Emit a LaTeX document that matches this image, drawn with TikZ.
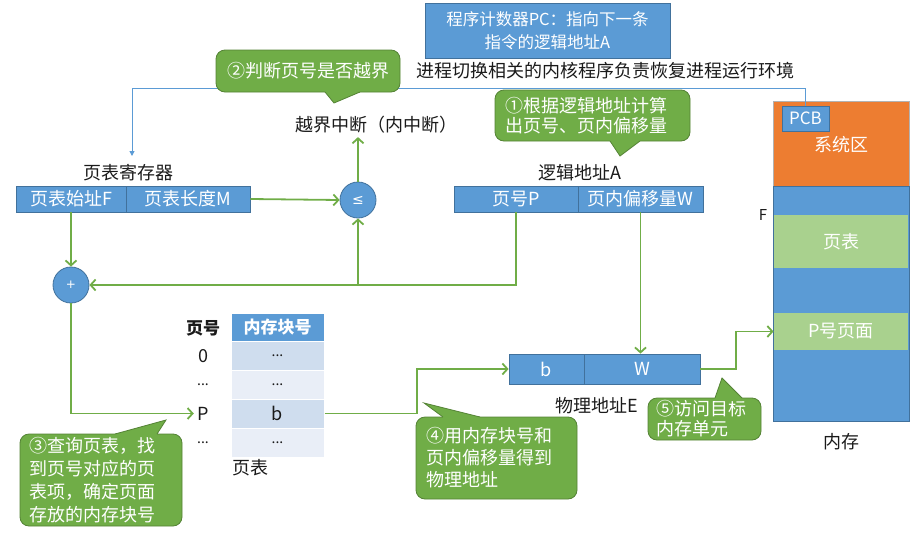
\documentclass[tikz,border=0pt]{standalone}
\usepackage{fontspec}
\setmainfont{Noto Sans CJK SC}
\newfontfamily\symfont{DejaVu Sans}
\usetikzlibrary{arrows.meta}
\definecolor{cblue}{HTML}{5B9BD5}
\definecolor{cblueb}{HTML}{41719C}
\definecolor{cgreen}{HTML}{70AD47}
\definecolor{cgreenb}{HTML}{548235}
\definecolor{corange}{HTML}{ED7D31}
\definecolor{clgreen}{HTML}{A9D18E}
\definecolor{crowa}{HTML}{CFDDEE}
\definecolor{crowb}{HTML}{E9EEF7}
\definecolor{ctext}{HTML}{1A1A1A}
\begin{document}
\begin{tikzpicture}[x=1pt,y=-1pt,
  every node/.style={font=\fontsize{18}{21}\selectfont, text=ctext},
  bluebox/.style={fill=cblue, draw=cblueb, line width=0.8, text=white, minimum height=26, inner sep=0},
  callout/.style={fill=cgreen, draw=cgreenb, line width=0.8, rounded corners=9, text=white, align=left, inner sep=0},
  ptrfill/.style={fill=cgreen},
  ptredge/.style={draw=cgreenb, line width=0.8},
  garrow/.style={draw=cgreen, line width=1.8, -{Straight Barb[length=5,width=11]}},
  gline/.style={draw=cgreen, line width=1.8},
  circ/.style={circle, fill=cblue, draw=cblueb, line width=0.8, minimum size=36, inner sep=0, text=white},
  cell/.style={minimum width=93, minimum height=29, inner sep=0, draw=white, line width=1},
  smalltxt/.style={font=\fontsize{14}{16}\selectfont}]
\useasboundingbox (0,0) rectangle (924,544);

% program counter
\node[bluebox, minimum width=245, minimum height=55, align=center, font=\fontsize{16.5}{23}\selectfont] (pc) at (547.5,30.5) {程序计数器PC：指向下一条\\指令的逻辑地址A};
\node (ctx) at (605,71) {进程切换相关的内核程序负责恢复进程运行环境};

% memory
\node[draw=gray!60, fill=corange, minimum width=136, minimum height=85, inner sep=0] (sys) at (841,143.5) {};
\node[text=white] (systxt) at (841,145) {系统区};
\node[fill=cblue, draw=cblueb, line width=0.8, minimum width=136, minimum height=235, inner sep=0] (mem) at (841,303.5) {};
\node[fill=clgreen, minimum width=134.5, minimum height=53, inner sep=0, text=white] (mempt) at (841,241.5) {页表};
\node[fill=clgreen, minimum width=134.5, minimum height=37, inner sep=0, text=white] (mempp) at (841,331.5) {P号页面};
\node[bluebox, minimum width=47, minimum height=25, font=\fontsize{17}{20}\selectfont] (pcb) at (805.5,118.5) {PCB};
\node[font=\fontsize{15}{17}\selectfont] (flbl) at (763,215) {F};
\node (memlbl) at (841,442) {内存};

% blue context line
\coordinate (b1) at (805.5,88);
\coordinate (b2) at (132,88);
\coordinate (b3) at (132,156);
\draw[cblue, line width=1, -{Triangle[length=5,width=5]}] (pcb.north) -- (b1) -- (b2) -- (b3);

% callout 2
\node[callout, minimum width=184, minimum height=42, align=center] (c2) at (308,71) {②判断页号是否越界};
\fill[ptrfill] (325,89) -- (325,92) -- (334,103) -- (360,92) -- (360,89) -- cycle;
\draw[ptredge] (325,92) -- (334,103) -- (360,92);

\node (intr) at (376,125) {越界中断（内中断）};

% page table register
\node (reglbl) at (128,173) {页表寄存器};
\node[bluebox, minimum width=110] (ptF) at (71,199) {页表始址F};
\node[bluebox, minimum width=124] (ptM) at (188,199) {页表长度M};

\node[circ, font=\symfont\fontsize{14}{16}\selectfont] (le) at (358,200) {≤};
\node[circ, font=\symfont\fontsize{12}{14}\selectfont] (plus) at (71,285) {+};

% logical address
\node (loglbl) at (580,173) {逻辑地址A};
\node[bluebox, minimum width=124] (lP) at (516,199) {页号P};
\node[bluebox, minimum width=125] (lW) at (640.5,199) {页内偏移量W};

% callout 1
\node[callout, minimum width=195, minimum height=51, text width=174, font=\fontsize{18}{20}\selectfont] (c1) at (592.5,115.5) {①根据逻辑地址计算\\出页号、页内偏移量};
\fill[ptrfill] (610,138) -- (610,141) -- (620,156) -- (640,141) -- (640,138) -- cycle;
\draw[ptredge] (610,141) -- (620,156) -- (640,141);

% page table
\node[font=\fontsize{17}{21}\selectfont\bfseries] (thl) at (203,328) {页号};
\node[cell, fill=cblue, text=white, font=\fontsize{17}{21}\selectfont\bfseries] (th) at (277.5,327.5) {内存块号};
\node[cell, fill=crowa, smalltxt] (r0) at (277.5,356) {...};
\node[cell, fill=crowb, smalltxt] (r1) at (277.5,384.5) {...};
\node[cell, fill=crowa] (r2) at (277.5,413.5) {b};
\node[cell, fill=crowb, smalltxt] (r3) at (277.5,442.5) {...};
\node (l0) at (203,356) {0};
\node[smalltxt] (l1) at (203,384.5) {...};
\node (lp) at (203,413.5) {P};
\node[smalltxt] (l3) at (203,442.5) {...};
\node (ptlbl) at (250,468) {页表};

% physical address
\node[bluebox, minimum width=75, minimum height=30] (pb) at (546.5,369) {b};
\node[bluebox, minimum width=116, minimum height=30] (pW) at (642,369) {W};
\node (physlbl) at (597,406) {物理地址E};

% callout 3
\node[callout, minimum width=162, minimum height=92, text width=144, font=\fontsize{18}{23}\selectfont] (c3) at (101,480) {③查询页表，找\\到页号对应的页\\表项，确定页面\\存放的内存块号};
\fill[ptrfill] (115,437) -- (115,434) -- (166,420) -- (157,434) -- (157,437) -- cycle;
\draw[ptredge] (115,434) -- (166,420) -- (157,434);

% callout 4
\node[callout, minimum width=161, minimum height=82, text width=140, font=\fontsize{18}{22}\selectfont] (c4) at (496.5,458) {④用内存块号和\\页内偏移量得到\\物理地址};
\fill[ptrfill] (443,420) -- (443,417) -- (424,403) -- (480,417) -- (480,420) -- cycle;
\draw[ptredge] (443,417) -- (424,403) -- (480,417);

% callout 5
\node[callout, minimum width=113, minimum height=42, text width=96, font=\fontsize{18}{20}\selectfont] (c5) at (704.5,419) {⑤访问目标\\内存单元};
\fill[ptrfill] (715,401) -- (715,398) -- (722,378) -- (742,398) -- (742,401) -- cycle;
\draw[ptredge] (715,398) -- (722,378) -- (742,398);

% green connectors
\draw[garrow] (ptF.south) -- (plus.north);
\draw[garrow] (ptM.east) -- (le.west);
\draw[garrow] (le.north) -- (le.north |- intr.south);
\draw[garrow] (lP.south) |- (plus.east);
\coordinate (j1) at (le.south |- plus.east);
\draw[garrow] (j1) -- (le.south);
\draw[garrow] (lW.south) -- (lW.south |- pW.north);
\draw[garrow] (plus.south) |- (lp.west);
\coordinate (t1) at (417,369);
\draw[garrow] (r2.east) -| (t1) -- (pb.west);
\coordinate (t2) at (736,369);
\draw[garrow] (pW.east) -- (t2) |- (mempp.west);
\end{tikzpicture}
\end{document}
